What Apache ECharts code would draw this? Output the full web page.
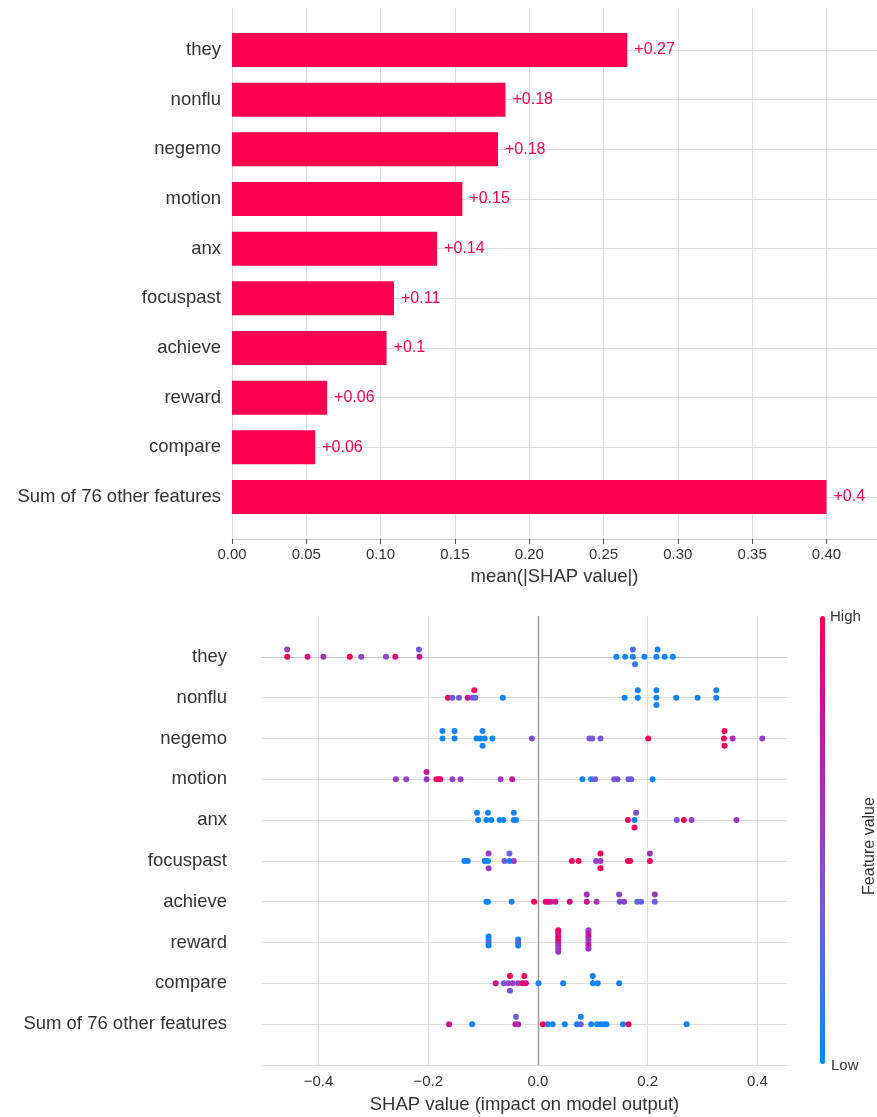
<!DOCTYPE html>
<html>
<head>
<meta charset="utf-8">
<script src="https://cdn.jsdelivr.net/npm/echarts@6/dist/echarts.min.js"></script>
<style>
  html, body { margin: 0; padding: 0; background: #fff; }
  #chart { width: 877px; height: 1117px; }
</style>
</head>
<body>
<div id="chart"></div>
<script>
// feature order (top to bottom)
const featureNames = ["they", "nonflu", "negemo", "motion", "anx", "focuspast",
  "achieve", "reward", "compare", "Sum of 76 other features"]

// mean(|SHAP value|) per feature
const meanAbsShap = [0.266, 0.184, 0.179, 0.155, 0.138, 0.109, 0.104, 0.064, 0.056, 0.400]
const barTicks = [0, 0.05, 0.1, 0.15, 0.2, 0.25, 0.3, 0.35, 0.4]
const swarmTicks = [-0.4, -0.2, 0, 0.2, 0.4]

// beeswarm points: [shap value, stack level (+ = up), feature value 0..1]
const ptsThey = [
  [-0.457, 1, 0.5], [-0.457, 0, 0.97], [-0.420, 0, 0.85], [-0.391, 0, 0.6],
  [-0.343, 0, 0.97], [-0.322, 0, 0.5], [-0.277, 0, 0.42], [-0.260, 0, 0.85],
  [-0.217, 1, 0.35], [-0.216, 0, 0.75],
  [0.143, 0, 0.05], [0.159, 0, 0.05], [0.173, 1, 0.25], [0.173, 0, 0.05],
  [0.177, -1, 0.12], [0.194, 0, 0.05], [0.218, 1, 0.05], [0.216, 0, 0.05],
  [0.231, 0, 0.05], [0.246, 0, 0.05]
]
const ptsNonflu = [
  [-0.164, 0, 0.97], [-0.156, 0, 0.35], [-0.144, 0, 0.35], [-0.128, 0, 0.8],
  [-0.116, 1, 0.97], [-0.119, 0, 0.35], [-0.114, 0, 0.3], [-0.064, 0, 0.05],
  [0.158, 0, 0.05], [0.182, 1, 0.05], [0.182, 0, 0.05], [0.216, 1, 0.05],
  [0.216, 0, 0.05], [0.216, -1, 0.05], [0.252, 0, 0.05], [0.291, 0, 0.05],
  [0.325, 1, 0.05], [0.325, 0, 0.05]
]
const ptsNegemo = [
  [-0.174, 1, 0.05], [-0.174, 0, 0.05], [-0.152, 1, 0.05], [-0.152, 0, 0.05],
  [-0.112, 0, 0.05], [-0.105, 0, 0.05], [-0.101, 1, 0.05], [-0.101, -1, 0.05],
  [-0.097, 0, 0.05], [-0.083, 0, 0.05], [-0.011, 0, 0.45],
  [0.094, 0, 0.38], [0.099, 0, 0.38], [0.114, 0, 0.38], [0.201, 0, 0.97],
  [0.340, 1, 0.97], [0.339, 0, 0.97], [0.340, -1, 0.97], [0.355, 0, 0.62],
  [0.409, 0, 0.5]
]
const ptsMotion = [
  [-0.259, 0, 0.5], [-0.240, 0, 0.5], [-0.203, 1, 0.75], [-0.203, 0, 0.55],
  [-0.185, 0, 0.97], [-0.181, 0, 0.97], [-0.178, 0, 0.95], [-0.156, 0, 0.5],
  [-0.141, 0, 0.5], [-0.068, 0, 0.5], [-0.047, 0, 0.75],
  [0.081, 0, 0.05], [0.097, 0, 0.05], [0.104, 0, 0.35], [0.139, 0, 0.38],
  [0.145, 0, 0.38], [0.165, 0, 0.38], [0.170, 0, 0.35], [0.209, 0, 0.05]
]
const ptsAnx = [
  [-0.111, 1, 0.05], [-0.109, 0, 0.05], [-0.091, 1, 0.05], [-0.094, 0, 0.05],
  [-0.085, 0, 0.05], [-0.070, 0, 0.05], [-0.063, 0, 0.05], [-0.044, 1, 0.05],
  [-0.044, 0, 0.05], [-0.040, 0, 0.05],
  [0.179, 1, 0.38], [0.164, 0, 0.97], [0.176, 0, 0.05], [0.176, -1, 0.97],
  [0.253, 0, 0.38], [0.266, 0, 0.97], [0.280, 0, 0.5], [0.362, 0, 0.55]
]
const ptsFocuspast = [
  [-0.134, 0, 0.05], [-0.128, 0, 0.05], [-0.097, 0, 0.05], [-0.091, 0, 0.05],
  [-0.090, 1, 0.55], [-0.090, -1, 0.55], [-0.061, 0, 0.38], [-0.052, 1, 0.3],
  [-0.052, 0, 0.05], [-0.044, 0, 0.55],
  [0.062, 0, 0.97], [0.074, 0, 0.97], [0.106, 0, 0.5], [0.114, 1, 0.97],
  [0.114, 0, 0.55], [0.114, -1, 0.97], [0.164, 0, 0.97], [0.168, 0, 0.97],
  [0.204, 1, 0.6], [0.204, 0, 0.97]
]
const ptsAchieve = [
  [-0.094, 0, 0.05], [-0.091, 0, 0.05], [-0.048, 0, 0.05], [-0.007, 0, 0.97],
  [0.014, 0, 0.97], [0.018, 0, 0.9], [0.023, 0, 0.8], [0.032, 0, 0.8],
  [0.058, 0, 0.85], [0.089, 1, 0.6], [0.089, 0, 0.8], [0.107, 0, 0.6],
  [0.148, 1, 0.5], [0.149, 0, 0.38], [0.157, 0, 0.5], [0.181, 0, 0.3],
  [0.188, 0, 0.3], [0.213, 1, 0.55], [0.213, 0, 0.3]
]
const ptsReward = [
  [-0.090, 2, 0.05], [-0.090, 1, 0.05], [-0.090, 0, 0.3], [-0.090, -1, 0.05],
  [-0.036, 1, 0.05], [-0.036, 0, 0.3], [-0.036, -1, 0.05],
  [0.037, 4, 0.97], [0.037, 3, 0.85], [0.037, 2, 0.8], [0.037, 1, 0.97],
  [0.037, 0, 0.75], [0.037, -1, 0.6], [0.037, -2, 0.55], [0.037, -3, 0.55],
  [0.092, 4, 0.55], [0.092, 3, 0.65], [0.092, 2, 0.8], [0.092, 1, 0.55],
  [0.092, 0, 0.5], [0.092, -1, 0.75], [0.092, -2, 0.55]
]
const ptsCompare = [
  [-0.077, 0, 0.8], [-0.062, 0, 0.38], [-0.054, 0, 0.5], [-0.046, 0, 0.5],
  [-0.036, 0, 0.5], [-0.051, 1, 0.97], [-0.051, -1, 0.38], [-0.028, 0, 0.97],
  [-0.022, 0, 0.85], [-0.025, 1, 0.97], [0.001, 0, 0.05], [0.046, 0, 0.05],
  [0.100, 1, 0.05], [0.100, 0, 0.05], [0.109, 0, 0.05], [0.148, 0, 0.05]
]
const ptsSumOther = [
  [-0.162, 0, 0.8], [-0.120, 0, 0.05], [-0.040, 1, 0.3], [-0.041, 0, 0.75],
  [-0.036, 0, 0.6], [0.009, 0, 0.97], [0.018, 0, 0.05], [0.027, 0, 0.05],
  [0.049, 0, 0.05], [0.071, 0, 0.05], [0.078, 0, 0.3], [0.078, 1, 0.05],
  [0.097, 0, 0.05], [0.108, 0, 0.05], [0.115, 0, 0.05], [0.121, 0, 0.05],
  [0.125, 0, 0.05], [0.155, 0, 0.05], [0.165, 0, 0.97], [0.271, 0, 0.05]
]

const swarmRows = [ptsThey, ptsNonflu, ptsNegemo, ptsMotion, ptsAnx,
  ptsFocuspast, ptsAchieve, ptsReward, ptsCompare, ptsSumOther]
// vertical spacing of one stack level, in row units
const swarmStep = [0.18, 0.18, 0.18, 0.18, 0.18, 0.18, 0.18, 0.075, 0.18, 0.18]

const FONT = '"Liberation Sans", Arial, sans-serif'
const TEXT = "#333333"
const GRID_LINE = "#dedede"
const SHAP_RED = "#ff0051"
const colorScale = ["#008bfb", "#3a73ee", "#6c5cde", "#9440c8", "#b423ae", "#d80a8a", "#ff0051"]

const scatterData = []
swarmRows.forEach((row, i) => {
  row.forEach(p => scatterData.push([p[0], i - p[1] * swarmStep[i], p[2]]))
})

const chart = echarts.init(document.getElementById("chart"))

chart.setOption({
  animation: false,
  backgroundColor: "#fff",
  textStyle: { fontFamily: FONT },
  grid: [
    { left: 232, right: 0, top: 8, bottom: 578, outerBoundsMode: "none" },
    { left: 232, right: 0, top: 50, bottom: 620, outerBoundsMode: "none" },
    { left: 262, right: 90, top: 616, bottom: 52, outerBoundsMode: "none" }
  ],
  xAxis: [
    {
      gridIndex: 0, type: "value", min: 0, max: 0.434, interval: 0.05,
      axisLine: { show: true, lineStyle: { color: "#cccccc", width: 1 } },
      axisTick: { show: true, length: 5, customValues: barTicks, lineStyle: { color: "#555" } },
      axisLabel: {
        customValues: barTicks, margin: 8,
        fontSize: 15, color: TEXT, fontFamily: FONT,
        formatter: v => v.toFixed(2)
      },
      splitLine: { show: true, lineStyle: { color: GRID_LINE, width: 1 } },
      name: "mean(|SHAP value|)", nameLocation: "middle", nameGap: 28,
      nameTextStyle: { fontSize: 18.5, color: TEXT, fontFamily: FONT }
    },
    { gridIndex: 1, type: "value", min: 0, max: 0.434, show: false },
    {
      gridIndex: 2, type: "value", min: -0.503, max: 0.454,
      axisLine: { show: true, lineStyle: { color: "#cccccc", width: 1 } },
      axisTick: { show: false, customValues: swarmTicks },
      axisLabel: {
        customValues: swarmTicks, margin: 9,
        fontSize: 15, color: TEXT, fontFamily: FONT,
        formatter: v => v.toFixed(1).replace("-", "\u2212")
      },
      splitLine: { show: true, lineStyle: { color: GRID_LINE, width: 1 } },
      name: "SHAP value (impact on model output)", nameLocation: "middle", nameGap: 30,
      nameTextStyle: { fontSize: 18.5, color: TEXT, fontFamily: FONT }
    }
  ],
  yAxis: [
    { gridIndex: 0, type: "value", min: 0, max: 1, show: false },
    {
      gridIndex: 1, type: "category", inverse: true, boundaryGap: false,
      data: featureNames,
      axisLine: { show: false }, axisTick: { show: false },
      axisLabel: { interval: 0, margin: 11, fontSize: 18.5, color: TEXT, fontFamily: FONT },
      splitLine: { show: true, interval: 0, lineStyle: { color: GRID_LINE, width: 1 } }
    },
    {
      gridIndex: 2, type: "value", inverse: true, min: -1, max: 10, interval: 1,
      axisLine: { show: false }, axisTick: { show: false },
      axisLabel: {
        margin: 35, fontSize: 18.5, color: TEXT, fontFamily: FONT,
        formatter: v => featureNames[v] || ""
      },
      splitLine: { show: true, showMinLine: false, lineStyle: { color: GRID_LINE, width: 1 } }
    }
  ],
  visualMap: {
    type: "continuous", min: 0, max: 1, dimension: 2, seriesIndex: 1,
    orient: "vertical", left: 820, top: 616, itemWidth: 5, itemHeight: 448,
    padding: 0, calculable: false, hoverLink: false,
    inRange: { color: colorScale }
  },
  graphic: [
    { type: "text", x: 830, y: 617, style: { text: "High", fontSize: 15, fontFamily: FONT, fill: TEXT, verticalAlign: "middle" } },
    { type: "text", x: 831, y: 1066, style: { text: "Low", fontSize: 15, fontFamily: FONT, fill: TEXT, verticalAlign: "middle" } },
    {
      type: "text", x: 870, y: 846, rotation: Math.PI / 2,
      style: { text: "Feature value", fontSize: 16, fontFamily: FONT, fill: TEXT, align: "center", verticalAlign: "middle" }
    }
  ],
  series: [
    {
      type: "bar", xAxisIndex: 1, yAxisIndex: 1,
      data: meanAbsShap, barWidth: 34, clip: false,
      itemStyle: { color: SHAP_RED },
      label: {
        show: true, position: "right", distance: 7,
        color: SHAP_RED, fontSize: 16, fontFamily: FONT,
        formatter: p => "+" + Number(p.value.toFixed(2))
      }
    },
    {
      type: "scatter", xAxisIndex: 2, yAxisIndex: 2,
      data: scatterData, symbolSize: 6,
      itemStyle: { opacity: 1 },
      markLine: {
        silent: true, symbol: "none", z: 1, animation: false,
        label: { show: false },
        lineStyle: { color: "#999999", width: 1.4, type: "solid" },
        data: [{ xAxis: 0 }]
      }
    }
  ]
})
</script>
</body>
</html>
